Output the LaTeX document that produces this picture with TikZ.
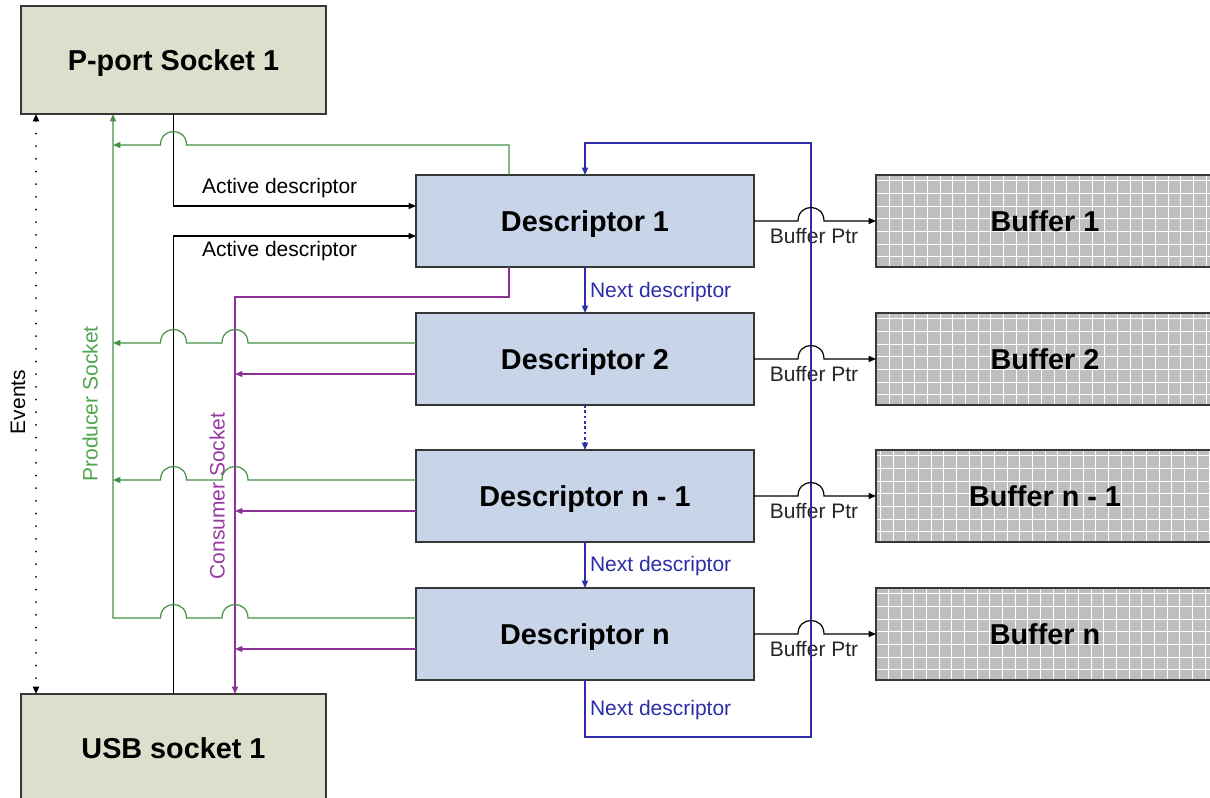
\documentclass[tikz,border=0pt]{standalone}
\usepackage{fontspec}
\setmainfont{Liberation Sans}
\usetikzlibrary{arrows.meta,calc}
\definecolor{sockfill}{RGB}{221,223,205}
\definecolor{descfill}{RGB}{200,213,232}
\definecolor{buffill}{RGB}{190,190,190}
\definecolor{gline}{RGB}{70,145,70}
\definecolor{gtext}{RGB}{80,165,80}
\definecolor{pline}{RGB}{140,50,150}
\definecolor{ptext}{RGB}{150,60,160}
\definecolor{bline}{RGB}{45,45,170}
\definecolor{edge}{RGB}{55,55,55}
\newcommand{\bigtxt}{\fontsize{21.6}{26}\selectfont\bfseries}
\newcommand{\smtxt}{\fontsize{15.75}{19}\selectfont}
\newcommand{\hopl}[2]{-- (#1+13,#2) .. controls (#1+13,#2-18) and (#1-13,#2-18) .. (#1-13,#2)}
\newcommand{\hopr}[2]{-- (#1-13,#2) .. controls (#1-13,#2-18) and (#1+13,#2-18) .. (#1+13,#2)}
\begin{document}
\begin{tikzpicture}[x=0.75pt,y=-0.75pt,
  every node/.style={inner sep=0pt,outer sep=0pt},
  boxtext/.style={font=\bigtxt,text height=15.6pt,text depth=0pt},
  sock/.style={boxtext,draw=edge,line width=1.1pt,fill=sockfill,minimum width=228.75pt,minimum height=81pt},
  desc/.style={boxtext,draw=edge,line width=1.1pt,fill=descfill,minimum width=253.5pt,minimum height=69pt},
  buf/.style={boxtext,draw=edge,line width=1.1pt,fill=buffill,minimum width=253.5pt,minimum height=69pt,
    path picture={\draw[white,line width=0.65pt] (path picture bounding box.south west) grid[step=9.5pt] (path picture bounding box.north east);}},
  lab/.style={font=\smtxt},
  ln/.style={line width=0.9pt},
  arr/.style={-{Triangle[length=5.5pt,width=4.5pt]}},
  blk/.style={ln,black},
  grn/.style={ln,gline},
  prp/.style={ln,pline},
  blu/.style={ln,bline},
  evt/.style={line width=1.5pt,black,dash pattern=on 0pt off 9.5pt,line cap=round,
    {Triangle[length=5.5pt,width=4.5pt,line cap=butt]}-{Triangle[length=5.5pt,width=4.5pt,line cap=butt]}}
]
\clip (0,0) rectangle (1210,798);
\fill[white] (0,0) rectangle (1210,798);

% boxes
\node[sock] (pport) at (173.5,60) {P-port Socket 1};
\node[sock] (usb) at (173.5,748) {USB socket 1};
\node[desc] (d1) at (585,221) {Descriptor 1};
\node[desc] (d2) at (585,359) {Descriptor 2};
\node[desc] (dn1) at (585,496) {Descriptor n - 1};
\node[desc] (dn) at (585,634) {Descriptor n};
\node[buf] (b1) at (1045,221) {Buffer 1};
\node[buf] (b2) at (1045,359) {Buffer 2};
\node[buf] (bn1) at (1045,496) {Buffer n - 1};
\node[buf] (bn) at (1045,634) {Buffer n};

\coordinate (gx) at (113,0);
\coordinate (px) at (235,0);
\coordinate (ev) at (36,0);

% labels
\node[lab,anchor=west] (la1) at (202,188) {Active descriptor};
\node[lab,anchor=west] (la2) at (202,251) {Active descriptor};
\node[lab,anchor=west,text=bline] (ln1) at (590,292) {Next descriptor};
\node[lab,anchor=west,text=bline] (ln2) at (590,566) {Next descriptor};
\node[lab,anchor=west,text=bline] (ln3) at (590,710) {Next descriptor};
\node[lab,text=black!85] (bp1) at (814,236) {Buffer Ptr};
\node[lab,text=black!85] (bp2) at (814,374) {Buffer Ptr};
\node[lab,text=black!85] (bp3) at (814,511) {Buffer Ptr};
\node[lab,text=black!85] (bp4) at (814,649) {Buffer Ptr};
\node[lab,rotate=90] (lev) at (18,402) {Events};
\node[lab,rotate=90,text=gtext] (lprod) at (90,404) {Producer Socket};
\node[lab,rotate=90,text=ptext] (lcons) at (217,496) {Consumer Socket};

% events
\draw[evt] (ev |- pport.south) -- (ev |- usb.north);

% black: active descriptor
\draw[blk,arr] (pport.south) |- ($(d1.west)+(0,-15)$);
\draw[blk,arr] (usb.north) |- ($(d1.west)+(0,15)$);

% purple: consumer socket
\draw[prp,arr] ($(d1.south west)+(93,0)$) -- (509,297) -- (235,297) -- (px |- usb.north);
\draw[prp,arr] ($(d2.west)+(0,15)$) -- (px |- 0,374);
\draw[prp,arr] ($(dn1.west)+(0,15)$) -- (px |- 0,511);
\draw[prp,arr] ($(dn.west)+(0,15)$) -- (px |- 0,649);

% green: producer socket
\draw[grn,arr] ($(d1.north west)+(93,0)$) -- (509,145) \hopl{173.5}{145} -- (gx |- 0,145);
\draw[grn,arr] ($(d2.west)+(0,-16)$) \hopl{235}{343} \hopl{173.5}{343} -- (gx |- 0,343);
\draw[grn,arr] ($(dn1.west)+(0,-16)$) \hopl{235}{480} \hopl{173.5}{480} -- (gx |- 0,480);
\draw[grn,arr] ($(dn.west)+(0,-16)$) \hopl{235}{618} \hopl{173.5}{618} -- (113,618) -- (gx |- pport.south);

% blue: next descriptor chain
\draw[blu,arr] (d1.south) -- (d2.north);
\draw[blu,arr,dash pattern=on 2pt off 2pt] (d2.south) -- (dn1.north);
\draw[blu,arr] (dn1.south) -- (dn.north);
\draw[blu,arr] (dn.south) -- (585,737) -- (811,737) -- (811,143) -- (585,143) -- (d1.north);

% buffer pointers
\draw[blk,arr] (d1.east) \hopr{811}{221} -- (b1.west);
\draw[blk,arr] (d2.east) \hopr{811}{359} -- (b2.west);
\draw[blk,arr] (dn1.east) \hopr{811}{496} -- (bn1.west);
\draw[blk,arr] (dn.east) \hopr{811}{634} -- (bn.west);
\end{tikzpicture}
\end{document}
